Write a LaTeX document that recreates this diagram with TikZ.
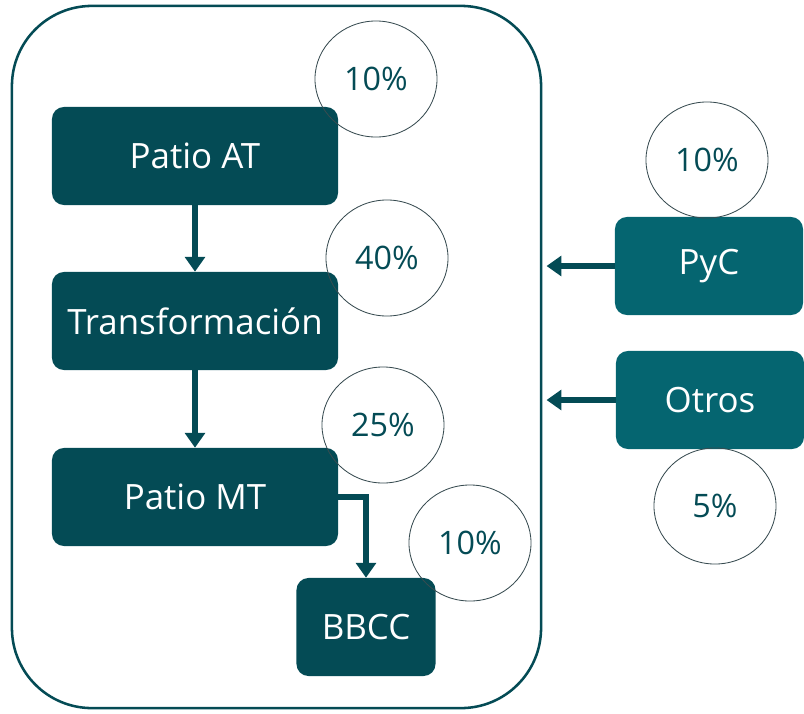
\documentclass[tikz,border=0pt]{standalone}
\usepackage{fontspec}
\setmainfont{Open Sans}
\usetikzlibrary{arrows.meta, shapes.geometric}
\definecolor{darkteal}{RGB}{4,75,85}
\definecolor{midteal}{RGB}{5,101,112}
\definecolor{ringgray}{RGB}{55,75,80}

\begin{document}
\begin{tikzpicture}[x=0.025cm, y=-0.025cm,
  box/.style={rectangle, rounded corners=0.3cm, fill=darkteal, text=white, minimum width=7.15cm, minimum height=2.45cm, font=\fontsize{24.8}{28}\selectfont},
  sidebox/.style={box, fill=midteal, minimum width=4.7cm},
  share/.style={ellipse, draw=ringgray, line width=0.6pt, minimum width=3.05cm, minimum height=2.9cm, text=darkteal, font=\fontsize{23}{26}\selectfont},
  flow/.style={-{Triangle[width=14pt,length=10.5pt]}, line width=3.6pt, draw=darkteal}]
\useasboundingbox (0,0) rectangle (804,713);

\node[draw=darkteal, line width=1.8pt, rounded corners=2cm, minimum width=13.225cm, minimum height=17.55cm, inner sep=0pt] at (276.5,357) (frame) {};

\node[box] at (195,156) (pat) {Patio AT};
\node[box] at (195,321) (trans) {Transformación};
\node[box] at (195,497) (pmt) {Patio MT};
\node[box, minimum width=3.475cm] at (366,627) (bbcc) {BBCC};
\node[sidebox] at (709,266) (pyc) {PyC};
\node[sidebox] at (710,400) (otros) {Otros};

\node[share] at (376,79) (patpct) {10\%};
\node[share] at (387,258) (transpct) {40\%};
\node[share] at (383,425) (pmtpct) {25\%};
\node[share] at (470,543) (bbccpct) {10\%};
\node[share] at (707,160) (pycpct) {10\%};
\node[share] at (715,506) (otrospct) {5\%};

\draw[flow] (pat) -- (trans);
\draw[flow] (trans) -- (pmt);
\draw[flow] (pmt.east) -| (bbcc);
\draw[flow, shorten >=3pt] (pyc) -- (pyc -| frame.east);
\draw[flow, shorten >=3pt] (otros) -- (otros -| frame.east);

\end{tikzpicture}
\end{document}
